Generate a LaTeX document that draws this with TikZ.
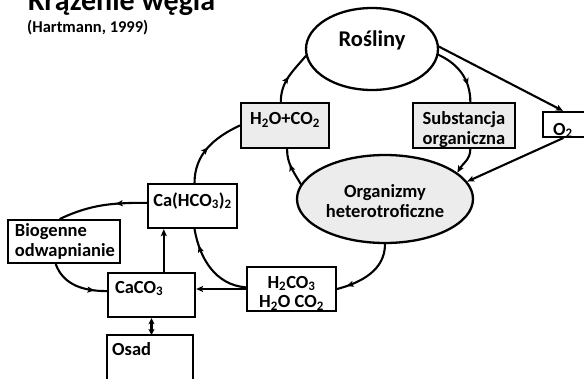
\documentclass[tikz,border=0pt]{standalone}
\usepackage{fontspec}
\setmainfont{Carlito}
\usetikzlibrary{arrows.meta,decorations.markings,shapes.geometric,calc}

\definecolor{boxgray}{RGB}{236,236,236}

\tikzset{
  every node/.style={font=\bfseries\fontsize{18.5pt}{19.5pt}\selectfont},
  box/.style={draw, line width=2.3pt, rectangle, inner sep=0pt, fill=white},
  oval/.style={draw, line width=2.3pt, ellipse, inner sep=0pt},
  conn/.style={line width=2.1pt, line cap=round},
  tip/.style={-{Stealth[length=7pt,width=6pt,inset=1.5pt]}},
  midarrow/.style={postaction={decorate,decoration={markings,
      mark=at position #1 with {\arrow{Stealth[length=7pt,width=6pt,inset=1.5pt]}}}}},
  inlabel/.style={align=center, inner sep=0pt},
}

\begin{document}
\begin{tikzpicture}[x=1pt,y=1pt]
\useasboundingbox (0,0) rectangle (584,-378);

% title
\node[anchor=base west, inner sep=0pt, font=\bfseries\fontsize{30pt}{32pt}\selectfont]
  (title) at (28,-10) {Krążenie węgla};
\node[anchor=base west, inner sep=0pt, font=\bfseries\fontsize{16.5pt}{18pt}\selectfont]
  (source) at (27,-32) {(Hartmann, 1999)};

% upper cycle
\node[oval, fill=white, minimum width=132, minimum height=82,
      font=\bfseries\fontsize{22.5pt}{24pt}\selectfont, text height=14pt, text depth=20pt]
  (ros) at (372,-49) {Rośliny};
\node[box, fill=boxgray, minimum width=88, minimum height=45, text height=12pt, text depth=13.6pt]
  (h2o) at (285,-125.5) {H\textsubscript{2}O+CO\textsubscript{2}};
\node[box, fill=boxgray, minimum width=102, minimum height=45,
      label={[inlabel, yshift=-4pt]center:Substancja\\organiczna}]
  (sub) at (464,-125.5) {};
\node[box, fill=white, minimum width=62, minimum height=25, anchor=west]
  (o2) at (542,-124.5) {};
\node[anchor=base, inner sep=0pt] (o2lbl) at (563,-135) {O\textsubscript{2}};
\node[oval, fill=boxgray, minimum width=176, minimum height=88,
      label={[inlabel, yshift=-2pt]center:Organizmy\\heterotroficzne}]
  (org) at (385,-199) {};

% lower cycle
\node[box, minimum width=89, minimum height=44, text height=12pt, text depth=12pt]
  (cahco) at (192.5,-206) {Ca(HCO\textsubscript{3})\textsubscript{2}};
\node[box, inner xsep=7pt, text width=98pt, minimum height=43, align=left]
  (bio) at (64,-241.5) {Biogenne\\odwapnianie};
\node[box, inner xsep=7pt, text width=73pt, minimum height=44, align=left,
      text height=12pt, text depth=16pt]
  (caco) at (151.5,-295) {CaCO\textsubscript{3}};
\node[box, minimum width=89, minimum height=44,
      label={[inlabel, yshift=-4pt]center:H\textsubscript{2}CO\textsubscript{3}\\H\textsubscript{2}O CO\textsubscript{2}}]
  (h2co) at (291.5,-289) {};
\node[minimum width=86, minimum height=50, inner sep=0pt, anchor=north]
  (osad) at (150,-335) {};
\draw[line width=2.3pt] (osad.south west) -- (osad.north west) -- (osad.north east) -- (osad.south east);
\node[anchor=base west, inner sep=0pt] (osadlbl) at (112,-355) {Osad};

% flows
\draw[conn, midarrow=0.5] (h2o.100) to[out=90,in=230] (ros.186);
\draw[conn, midarrow=0.72] (ros.-5) to[out=-25,in=90] (sub.75);
\draw[conn, tip] (ros.2) -- (o2lbl |- o2.north);
\draw[conn, tip] (sub.-75) to[out=-90,in=60] (org.20);
\draw[conn, tip] (o2lbl |- o2.south) -- (org.12);
\draw[conn, midarrow=0.6] (org.170) to[out=120,in=-90] (h2o.-85);
\draw[conn, midarrow=0.86] (org.-90) to[out=-90,in=15] (h2co.east);
\draw[conn, tip] (h2co.west) -- (h2co.west -| caco.east);
\draw[conn, midarrow=0.8] (h2co.178) to[out=175,in=-80] (cahco.-85);
\draw[conn, tip] (caco.62) -- (caco.62 |- cahco.south);
\draw[conn, midarrow=0.35] (cahco.176) to[out=180,in=25] (bio.100);
\draw[conn, midarrow=0.8] (bio.-110) to[out=-70,in=180] (caco.175);
\draw[conn, {Stealth[length=6pt,width=6pt,inset=1.5pt]}-{Stealth[length=6pt,width=6pt,inset=1.5pt]}]
  (caco.south) -- (caco.south |- osad.north);
\draw[conn, midarrow=0.5] (cahco.85) to[out=90,in=205] (h2o.west);
\end{tikzpicture}
\end{document}
